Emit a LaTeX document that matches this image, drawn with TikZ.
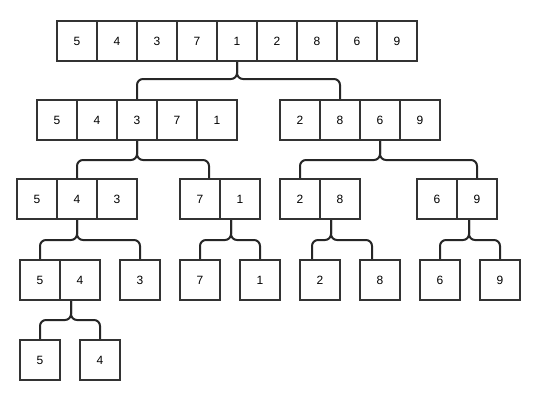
\documentclass[tikz,border=0pt]{standalone}
\usepackage{fontspec}
\setmainfont{Liberation Sans}
\begin{document}
\begin{tikzpicture}[
  x=1pt, y=-1pt,
  font=\fontsize{12}{14}\selectfont,
  celda/.style={rectangle, draw=black!80, line width=2pt, minimum size=40pt,
                inner sep=0pt},
  rama/.style={draw=black!85, line width=2pt, rounded corners=6pt}
]
\useasboundingbox (0,0) rectangle (540,400);

% --- Arreglo completo ---
\node[celda] (a1) at (77,41) {5};
\node[celda] (a2) at (117,41) {4};
\node[celda] (a3) at (157,41) {3};
\node[celda] (a4) at (197,41) {7};
\node[celda] (a5) at (237,41) {1};
\node[celda] (a6) at (277,41) {2};
\node[celda] (a7) at (317,41) {8};
\node[celda] (a8) at (357,41) {6};
\node[celda] (a9) at (397,41) {9};

% --- Primera division ---
\node[celda] (b1) at (57,120) {5};
\node[celda] (b2) at (97,120) {4};
\node[celda] (b3) at (137,120) {3};
\node[celda] (b4) at (177,120) {7};
\node[celda] (b5) at (217,120) {1};
\node[celda] (c1) at (300,120) {2};
\node[celda] (c2) at (340,120) {8};
\node[celda] (c3) at (380,120) {6};
\node[celda] (c4) at (420,120) {9};

% --- Segunda division ---
\node[celda] (d1) at (37,199) {5};
\node[celda] (d2) at (77,199) {4};
\node[celda] (d3) at (117,199) {3};
\node[celda] (e1) at (200,199) {7};
\node[celda] (e2) at (240,199) {1};
\node[celda] (f1) at (300,199) {2};
\node[celda] (f2) at (340,199) {8};
\node[celda] (g1) at (437,199) {6};
\node[celda] (g2) at (477,199) {9};

% --- Tercera division ---
\node[celda] (h1) at (40,280) {5};
\node[celda] (h2) at (80,280) {4};
\node[celda] (i) at (140,280) {3};
\node[celda] (j) at (200,280) {7};
\node[celda] (k) at (260,280) {1};
\node[celda] (l) at (320,280) {2};
\node[celda] (m) at (380,280) {8};
\node[celda] (n) at (440,280) {6};
\node[celda] (o) at (500,280) {9};

% --- Cuarta division ---
\node[celda] (p) at (40,360) {5};
\node[celda] (q) at (100,360) {4};

% --- Ramas ---
\draw[rama] (a5.south) -- (a5.south |- 0,79) -- (b3.north |- 0,79) -- (b3.north);
\draw[rama] (a5.south) -- (a5.south |- 0,79) -- (c2.north |- 0,79) -- (c2.north);

\draw[rama] (b3.south) -- (b3.south |- 0,160) -- (d2.north |- 0,160) -- (d2.north);
\draw[rama] (b3.south) -- (b3.south |- 0,160) -- ([xshift=9pt]e1.north |- 0,160)
      -- ([xshift=9pt]e1.north);
\draw[rama] (c3.south) -- (c3.south |- 0,160) -- (f1.north |- 0,160) -- (f1.north);
\draw[rama] (c3.south) -- (c3.south |- 0,160) -- (g2.north |- 0,160) -- (g2.north);

\draw[rama] (d2.south) -- (d2.south |- 0,240) -- (h1.north |- 0,240) -- (h1.north);
\draw[rama] (d2.south) -- (d2.south |- 0,240) -- (i.north |- 0,240) -- (i.north);
\draw[rama] ([xshift=-9pt]e2.south) -- ([xshift=-9pt]e2.south |- 0,240)
      -- (j.north |- 0,240) -- (j.north);
\draw[rama] ([xshift=-9pt]e2.south) -- ([xshift=-9pt]e2.south |- 0,240)
      -- (k.north |- 0,240) -- (k.north);
\draw[rama] ([xshift=-9pt]f2.south) -- ([xshift=-9pt]f2.south |- 0,240)
      -- ([xshift=-8pt]l.north |- 0,240) -- ([xshift=-8pt]l.north);
\draw[rama] ([xshift=-9pt]f2.south) -- ([xshift=-9pt]f2.south |- 0,240)
      -- ([xshift=-8pt]m.north |- 0,240) -- ([xshift=-8pt]m.north);
\draw[rama] ([xshift=-8pt]g2.south) -- ([xshift=-8pt]g2.south |- 0,240)
      -- (n.north |- 0,240) -- (n.north);
\draw[rama] ([xshift=-8pt]g2.south) -- ([xshift=-8pt]g2.south |- 0,240)
      -- (o.north |- 0,240) -- (o.north);

\draw[rama] ([xshift=-9pt]h2.south) -- ([xshift=-9pt]h2.south |- 0,320)
      -- (p.north |- 0,320) -- (p.north);
\draw[rama] ([xshift=-9pt]h2.south) -- ([xshift=-9pt]h2.south |- 0,320)
      -- (q.north |- 0,320) -- (q.north);

\end{tikzpicture}
\end{document}
